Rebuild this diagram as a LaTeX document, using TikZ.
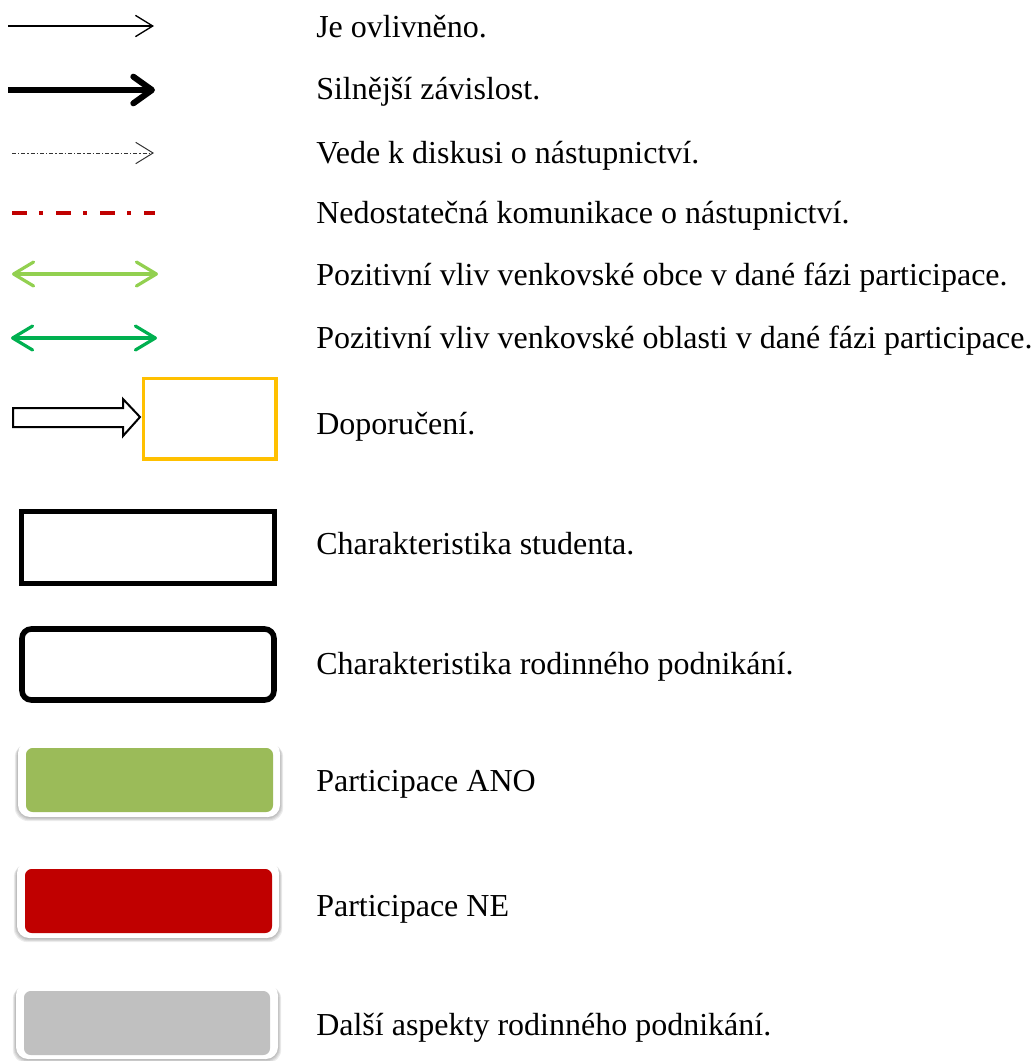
\documentclass[tikz,border=0pt]{standalone}
\usepackage{fontspec}
\setmainfont{Liberation Serif}
\usetikzlibrary{arrows.meta}
\definecolor{redC}{HTML}{C00000}
\definecolor{lgreen}{HTML}{92D050}
\definecolor{dgreen}{HTML}{00B050}
\definecolor{orangeY}{HTML}{FFC000}
\definecolor{oliveG}{HTML}{9BBB59}
\definecolor{grayC}{HTML}{C0C0C0}
\tikzset{
  lbl/.style={anchor=base west, inner sep=0pt, font=\fontsize{24pt}{28pt}\selectfont},
  thinarrow/.style={line width=1pt, -{Straight Barb[length=13pt,width=16pt]}},
  thickarrow/.style={line width=4.5pt, -{Straight Barb[length=14pt,width=20pt,round]}},
  dotarrow/.style={line width=0.75pt, black!80, dash pattern=on 3pt off 1.5pt on 1pt off 1.5pt, -{Straight Barb[length=13pt,width=16pt,line width=0.75pt]}},
  reddash/.style={line width=3pt, redC, dash pattern=on 11.25pt off 9pt on 3pt off 9.75pt},
  dblarrow/.style={line width=2.4pt, {Straight Barb[length=15pt,width=18pt,round]}-{Straight Barb[length=15pt,width=18pt,round]}},
  outerbox/.style={fill=white, rounded corners=9pt},
  shadowlayer/.style={fill=black, opacity=0.07, rounded corners=10pt},
}
\newcommand{\softshadow}[4]{%
  \foreach \k in {0,1,2,3,4}{%
    \fill[shadowlayer] ({#1-\k*0.8},{#2+1+\k*0.4}) rectangle ({#3+\k*0.8},{#4+1.5+\k*0.9});
  }%
}
\begin{document}
\begin{tikzpicture}[x=0.75pt,y=-0.75pt]
\useasboundingbox (0,0) rectangle (1032,1061);
% text labels
\node[lbl] (t1) at (316,37) {Je ovlivněno.};
\node[lbl] (t2) at (316,99) {Silnější závislost.};
\node[lbl] (t3) at (316,163) {Vede k diskusi o nástupnictví.};
\node[lbl] (t4) at (316,223) {Nedostatečná komunikace o nástupnictví.};
\node[lbl] (t5) at (316,285) {Pozitivní vliv venkovské obce v dané fázi participace.};
\node[lbl] (t6) at (316,348) {Pozitivní vliv venkovské oblasti v dané fázi participace.};
\node[lbl] (t7) at (316,434) {Doporučení.};
\node[lbl] (t8) at (316,554) {Charakteristika studenta.};
\node[lbl] (t9) at (316,674) {Charakteristika rodinného podnikání.};
\node[lbl] (t10) at (316,791) {Participace ANO};
\node[lbl] (t11) at (316,916) {Participace NE};
\node[lbl] (t12) at (316,1035) {Další aspekty rodinného podnikání.};
% arrows
\coordinate (a1s) at (8,26); \coordinate (a1e) at (154,26);
\draw[thinarrow] (a1s) -- (a1e);
\coordinate (a2s) at (8,90); \coordinate (a2e) at (155,90);
\draw[thickarrow] (a2s) -- (a2e);
\coordinate (a3s) at (12,153); \coordinate (a3e) at (154,153);
\draw[dotarrow] (a3s) -- (a3e);
\coordinate (a4s) at (12,213); \coordinate (a4e) at (155,213);
\draw[reddash] (a4s) -- (a4e);
\coordinate (a5s) at (12,274); \coordinate (a5e) at (158,274);
\draw[dblarrow, lgreen] (a5s) -- (a5e);
\coordinate (a6s) at (11,338); \coordinate (a6e) at (157,338);
\draw[dblarrow, dgreen] (a6s) -- (a6e);
% block arrow and recommendation box
\draw[line width=1.5pt, fill=white, line join=miter] (13,408) -- (123,408) -- (123,399) -- (140,417) -- (123,436) -- (123,427) -- (13,427) -- cycle;
\draw[orangeY, line width=2.6pt] (143.5,378.5) rectangle (276,459);
% student box
\draw[line width=4pt] (21.5,511.5) rectangle (274.5,583.5);
% family business box
\draw[line width=4.2pt, rounded corners=7pt] (22,629) rectangle (274,700);
% filled boxes
\softshadow{18}{741}{280}{816}
\fill[outerbox] (18,741) rectangle (280,817);
\fill[oliveG, rounded corners=5pt] (26,748) rectangle (273,812);
\softshadow{17}{861}{279}{937}
\fill[outerbox] (17,861) rectangle (279,938);
\fill[redC, rounded corners=5pt] (25,869) rectangle (272,933);
\softshadow{16}{983}{278}{1058}
\fill[outerbox] (16,983) rectangle (278,1059);
\fill[grayC, rounded corners=5pt] (24,991) rectangle (270,1055);
\end{tikzpicture}
\end{document}
